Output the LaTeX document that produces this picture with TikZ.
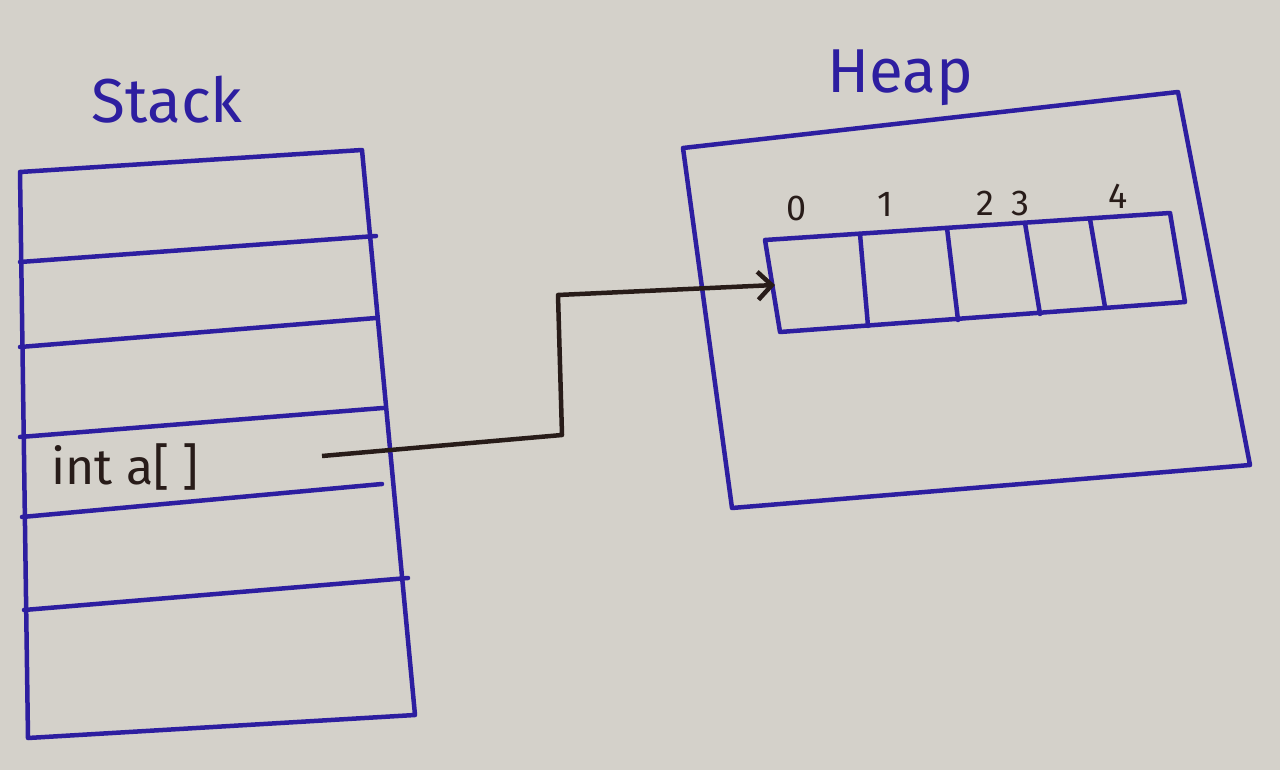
\documentclass[tikz,border=0pt]{standalone}
\usepackage{fontspec}
\setmainfont{Fira Sans}
\usetikzlibrary{arrows.meta}
\definecolor{paper}{RGB}{212,209,202}
\definecolor{pen}{RGB}{45,30,160}
\definecolor{ink}{RGB}{40,28,25}
\tikzset{pen/.style={draw=pen,line width=4.5pt,line join=round,line cap=round},
lbl/.style={text=pen,font=\fontsize{62}{62}\selectfont},
idx/.style={text=ink,font=\fontsize{36}{36}\selectfont}}
\begin{document}
\begin{tikzpicture}[x=1pt,y=-1pt]
\fill[paper] (0,0) rectangle (1280,770);
\useasboundingbox (0,0) rectangle (1280,770);
\node[lbl] (st) at (167,100) {Stack};
\node[lbl] (hp) at (900,78) {Heap};
% stack
\draw[pen] (20,172) -- (362,150) -- (415,715) -- (28,738) -- cycle;
\draw[pen] (20,262) -- (376,236);
\draw[pen] (20,347) -- (376,318);
\draw[pen] (20,437) -- (383,408);
\draw[pen] (22,517) -- (382,484);
\draw[pen] (24,610) -- (408,578);
\node[text=ink,font=\fontsize{50}{50}\selectfont,anchor=west] (ia) at (48,467) {int a[ ]};
% heap
\draw[pen] (683,148) -- (1178,92) -- (1250,465) -- (732,508) -- cycle;
\draw[pen] (765,240) -- (1170,213) -- (1185,302) -- (780,332) -- cycle;
\draw[pen] (860,234) -- (868,326);
\draw[pen] (947,228) -- (958,320);
\draw[pen] (1025,223) -- (1040,314);
\draw[pen] (1090,219) -- (1105,307);
\node[idx] (i0) at (797,208) {0};
\node[idx] (i1) at (885,204) {1};
\node[idx] (i2) at (985,203) {2};
\node[idx] (i3) at (1020,203) {3};
\node[idx] (i4) at (1118,196) {4};
% pointer
\coordinate (p0) at (322,456);
\coordinate (p1) at (562,435);
\coordinate (p2) at (558,295);
\coordinate (p3) at (775,285);
\draw[draw=ink,line width=4.5pt,line join=round,-{Straight Barb[length=14pt,width=28pt]}] (p0) -- (p1) -- (p2) -- (p3);
\end{tikzpicture}
\end{document}
